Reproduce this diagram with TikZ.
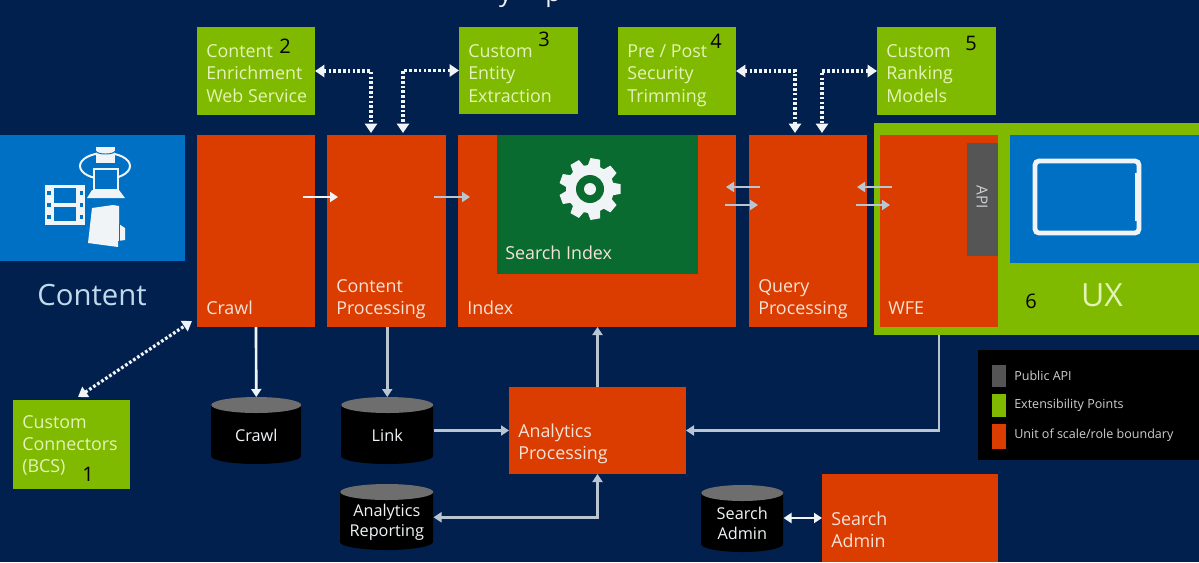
\documentclass[tikz,border=0pt]{standalone}
\usepackage{fontspec}
\setmainfont{Open Sans}
\usetikzlibrary{arrows.meta,calc}
\definecolor{navy}{HTML}{02204E}
\definecolor{orangebox}{HTML}{DB3C00}
\definecolor{limebox}{HTML}{7FBA00}
\definecolor{bluebox}{HTML}{0070C4}
\definecolor{indexgreen}{HTML}{0A6B30}
\definecolor{apigrey}{HTML}{555555}
\definecolor{lidgrey}{HTML}{6E6E6E}
\definecolor{softwhite}{HTML}{F0F4F6}
\definecolor{arrowgrey}{HTML}{B9C6D2}
\definecolor{boxtext}{HTML}{F5E3D8}
\definecolor{limetext}{HTML}{E4F3B8}
\tikzset{
  x=0.75pt,y=-0.75pt,
  panel/.style={anchor=north west,inner sep=0pt,outer sep=0pt,minimum width=#1},
  tall/.style={minimum height=#1},
  orangepanel/.style={panel=#1,fill=orangebox},
  limepanel/.style={panel=#1,fill=limebox},
  boxlabel/.style={anchor=south west,inner sep=0pt,align=left,text=boxtext,font=\fontsize{13.4}{16.7}\selectfont},
  limelabel/.style={anchor=north west,inner sep=0pt,align=left,text=limetext,font=\fontsize{13.4}{16.7}\selectfont},
  number/.style={inner sep=0pt,text=black,font=\fontsize{15}{18}\selectfont},
  drumlabel/.style={inner sep=0pt,align=center,text=softwhite,font=\fontsize{12.2}{15}\selectfont},
  legendlabel/.style={anchor=west,inner sep=0pt,text=softwhite!85!black,font=\fontsize{9.4}{11}\selectfont},
  flow/.style={draw=softwhite,line width=2pt,-{Triangle[length=6pt,width=7.5pt]}},
  dimflow/.style={flow,draw=arrowgrey},
  twoway/.style={draw=softwhite,line width=2pt,{Triangle[length=6pt,width=7.5pt]}-{Triangle[length=6pt,width=7.5pt]}},
  dimtwoway/.style={twoway,draw=arrowgrey},
  dotted link/.style={draw=softwhite,line width=2.4pt,dash pattern=on 2pt off 1.6pt,
    {Triangle[length=7pt,width=9pt]}-{Triangle[length=7pt,width=9pt]}},
}
% Database drum: body and lid sized in pixels of the canvas
\newcommand{\drum}[6]{% name, left, top, width, height, label
  \node[inner sep=0pt,minimum width=#4*0.75pt,minimum height=#5*0.75pt,anchor=north west] (#1) at (#2,#3) {};
  \fill[black] (#1.north west) ++(0,8) -- ++(0,#5-16)
     arc[start angle=180,end angle=360,x radius=#4/2*0.75pt,y radius=8*0.75pt]
     -- ++(0,-#5+16) -- cycle;
  \fill[lidgrey] ($(#1.north)+(0,8)$) ellipse[x radius=#4/2*0.75pt,y radius=8*0.75pt];
  \node[drumlabel] (#1text) at ($(#1.center)+(0,5)$) {#6};
}
\begin{document}
\begin{tikzpicture}
\useasboundingbox (0,0) rectangle (1199,562);
\fill[navy] (0,0) rectangle (1199,562);

% Remains of the heading, cut off by the top edge
\node[anchor=base,inner sep=0pt,text=softwhite,font=\fontsize{19}{22}\selectfont] (heading) at (530,1) {y\hspace{25pt}p};

% Extensibility services along the top
\node[limepanel=118*0.75pt,tall=88*0.75pt] (enrich) at (197,27) {};
\node[limepanel=119*0.75pt,tall=87*0.75pt] (entity) at (459,27) {};
\node[limepanel=118*0.75pt,tall=88*0.75pt] (trim) at (618,27) {};
\node[limepanel=119*0.75pt,tall=88*0.75pt] (rank) at (877,27) {};
\node[limelabel] (enrichtext) at (206,44.5) {Content\\Enrichment\\Web Service};
\node[limelabel] (entitytext) at (468,44.5) {Custom\\Entity\\Extraction};
\node[limelabel] (trimtext) at (627,44.5) {Pre / Post\\Security\\Trimming};
\node[limelabel] (ranktext) at (886,44.5) {Custom\\Ranking\\Models};
\node[number] (n2) at (285,46) {2};
\node[number] (n3) at (544,39) {3};
\node[number] (n4) at (716,41) {4};
\node[number] (n5) at (971,43) {5};

% Content source
\node[panel=185*0.75pt,tall=126*0.75pt,fill=bluebox] (content) at (0,135) {};
\node[inner sep=0pt,text=softwhite!80!bluebox,font=\fontsize{22}{26}\selectfont] (contenttext) at (92,295) {Content};

% Content icon: server, laptop, film strip and folder
\begin{scope}[softwhite]
  \draw[line width=1.5pt] (105,166) ellipse[x radius=25*0.75pt,y radius=13*0.75pt];
  \fill (96,147) rectangle (115,163);
  \draw[bluebox,line width=0.7pt] (96,151) arc[start angle=180,end angle=360,x radius=9.5*0.75pt,y radius=3*0.75pt];
  \draw[line width=1.4pt,fill=bluebox] (94,169) rectangle (118,190);
  \fill (92,190) -- (119,190) -- (125,198) -- (87,198) -- cycle;
  \fill (45,185) rectangle (85,225);
  \fill[bluebox] (54,188) rectangle (76,203);
  \fill[bluebox] (54,207) rectangle (76,221);
  \foreach \yy in {191,203,215}{
    \fill[bluebox] (47,\yy) rectangle (50.5,\yy+4);
    \fill[bluebox] (79.5,\yy) rectangle (83,\yy+4);
  }
  \fill (92,208) -- (113,205) -- (119,206) -- (119,224) -- (125,228) -- (125,240) -- (118,241) -- (118,247) -- (88,243) -- cycle;
  \draw[bluebox,line width=0.7pt] (119,224) -- (119,241);
\end{scope}

% Pipeline stages
\node[orangepanel=118*0.75pt,tall=192*0.75pt] (crawl) at (197,135) {};
\node[orangepanel=119*0.75pt,tall=192*0.75pt] (cpp) at (327,135) {};
\node[orangepanel=278*0.75pt,tall=192*0.75pt] (index) at (458,135) {};
\node[panel=201*0.75pt,tall=139*0.75pt,fill=indexgreen] (sindex) at (497,135) {};
\node[orangepanel=118*0.75pt,tall=192*0.75pt] (query) at (749,135) {};

% Front end and user experience frame
\node[limepanel=325*0.75pt,tall=212*0.75pt] (uxframe) at (874,123) {};
\node[orangepanel=118*0.75pt,tall=192*0.75pt] (wfe) at (880,135) {};
\node[panel=31*0.75pt,tall=113*0.75pt,fill=apigrey] (api) at (967,143) {};
\node[rotate=-90,inner sep=0pt,text=softwhite!85!black,font=\fontsize{11.5}{13}\selectfont] (apitext) at (982,197) {API};
\node[panel=189*0.75pt,tall=128*0.75pt,fill=bluebox] (uxblue) at (1010,135) {};
\node[inner sep=0pt,minimum width=104*0.75pt,minimum height=72*0.75pt,draw=softwhite,line width=3.6pt,rounded corners=3pt] (tablet) at (1087,197) {};
\draw[softwhite,line width=2pt] ($(tablet.east)+(-5,-24)$) -- ($(tablet.east)+(-5,24)$);
\node[inner sep=0pt,text=limetext,font=\fontsize{24}{28}\selectfont] (uxtext) at (1102,295) {UX};
\node[number] (n6) at (1031,301) {6};

% Stage captions
\node[boxlabel] (crawltext) at (206,315) {Crawl};
\node[boxlabel] (cpptext) at (336,319) {Content\\Processing};
\node[boxlabel] (indextext) at (467,315) {Index};
\node[boxlabel] (querytext) at (758,319) {Query\\Processing};
\node[boxlabel] (wfetext) at (888,315) {WFE};
\node[boxlabel] (sindextext) at (505,260) {Search Index};

% Index gear with nine teeth
\node[inner sep=0pt,minimum size=1pt] (gear) at (590,189) {};
\fill[softwhite]
  ($(gear)+(-9:31*0.75pt)$)
  \foreach \a in {0,40,...,320}{
    -- ($(gear)+(\a-9:31*0.75pt)$) -- ($(gear)+(\a+9:31*0.75pt)$)
    -- ($(gear)+(\a+15:24*0.75pt)$) -- ($(gear)+(\a+25:24*0.75pt)$)
  } -- cycle;
\fill[indexgreen] (gear) circle[radius=14*0.75pt];
\fill[softwhite] (gear) circle[radius=6*0.75pt];

% Lower tier
\node[limepanel=117*0.75pt,tall=89*0.75pt] (connect) at (13,400) {};
\node[limelabel] (connecttext) at (22,415) {Custom\\Connectors\\(BCS)};
\node[number] (n1) at (88,474) {1};
\node[orangepanel=177*0.75pt,tall=87*0.75pt] (analytics) at (509,387) {};
\node[limelabel,text=boxtext] (analyticstext) at (518,423.5) {Analytics\\Processing};
\node[orangepanel=176*0.75pt,tall=88*0.75pt] (admin) at (822,474) {};
\node[boxlabel] (admintext) at (831,548) {Search\\Admin};
\drum{crawldb}{211}{397}{90}{67}{Crawl}
\drum{linkdb}{341}{397}{92}{67}{Link}
\drum{reportdb}{340}{484}{93}{66}{Analytics\\Reporting}
\drum{admindb}{701}{485}{82}{67}{Search\\Admin}

% Legend
\node[panel=221*0.75pt,tall=110*0.75pt,fill=black] (legend) at (978,350) {};
\node[panel=14*0.75pt,tall=22*0.75pt,fill=apigrey] (keyapi) at (992,365) {};
\node[panel=14*0.75pt,tall=23*0.75pt,fill=limebox] (keyext) at (992,394) {};
\node[panel=14*0.75pt,tall=25*0.75pt,fill=orangebox] (keyunit) at (992,424) {};
\node[legendlabel] (keyapitext) at (1014,376) {Public API};
\node[legendlabel] (keyexttext) at (1014,405) {Extensibility Points};
\node[legendlabel] (keyunittext) at (1014,435) {Unit of scale/role boundary};

% Free ends of the horizontal stage arrows
\coordinate (crawlout) at (303,197);
\coordinate (cppout) at (434,197);
\coordinate (indexin) at (470,197);
\coordinate (crawlin) at (338,197);
\coordinate (wfedrop) at (939,335);
\coordinate (iqa) at (726,187);
\coordinate (iqb) at (760,187);
\coordinate (iqc) at (725,205);
\coordinate (iqd) at (758,205);
\coordinate (qwa) at (857,187);
\coordinate (qwb) at (892,187);
\coordinate (qwc) at (856,205);
\coordinate (qwd) at (890,205);
\coordinate (enrichport) at (371,133);
\coordinate (entityport) at (403,133);
\coordinate (trimport) at (795,133);
\coordinate (rankport) at (822,133);
\coordinate (crawlcorner) at (192,321);
\coordinate (connectcorner) at (78,397);

% Stage-to-stage arrows
\draw[flow] (crawlout) -- (crawlin);
\draw[dimflow] (cppout) -- (indexin);
\draw[dimflow] (iqb) -- (iqa);
\draw[dimflow] (iqc) -- (iqd);
\draw[dimflow] (qwb) -- (qwa);
\draw[dimflow] (qwc) -- (qwd);

% Storage and analytics arrows
\draw[flow] (crawl.south) -- (crawldb.north);
\draw[dimflow] (cpp.south -| linkdb.north) -- (linkdb.north);
\draw[dimflow] (linkdb.east |- analytics.west) -- (analytics.west);
\draw[dimflow] (analytics.north) -- (analytics.north |- index.south);
\draw[dimflow] (wfedrop) |- (analytics.east);
\draw[dimtwoway] (reportdb.east) -| (analytics.south);
\draw[twoway] (admindb.east |- admin.west) -- (admin.west);

% Dotted links to the extensibility points
\draw[dotted link] (enrich.east) -| (enrichport);
\draw[dotted link] (entity.west) -| (entityport);
\draw[dotted link] (trim.east) -| (trimport);
\draw[dotted link] (rank.west) -| (rankport);
\draw[dotted link] (connectcorner) -- (crawlcorner);
\end{tikzpicture}
\end{document}
